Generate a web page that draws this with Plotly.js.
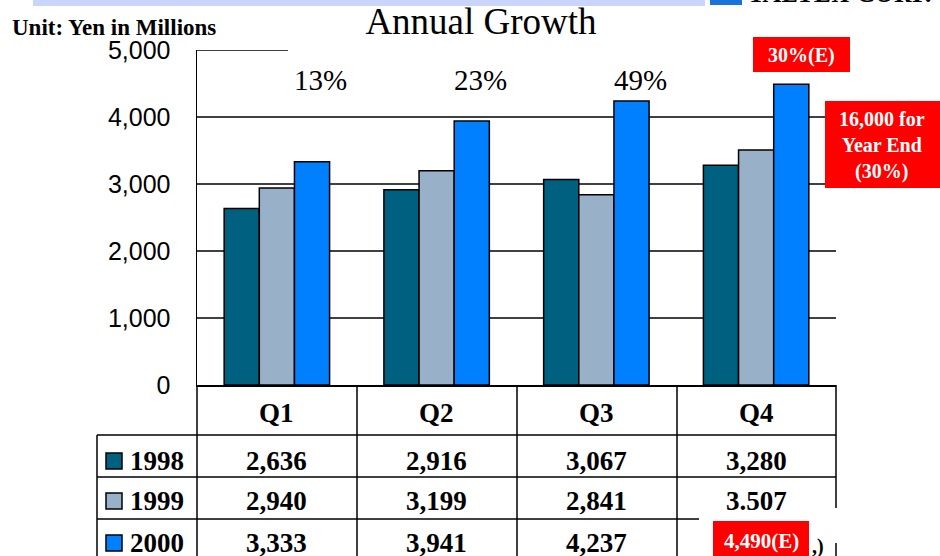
<!DOCTYPE html>
<html><head><meta charset="utf-8">
<script src="https://cdn.plot.ly/plotly-3.0.1.min.js"></script>
<style>html,body{margin:0;padding:0;background:#fff}#chart{width:940px;height:556px}</style>
</head><body><div id="chart"></div>
<script>
// ---- data ----
const quarters = ["Q1", "Q2", "Q3", "Q4"];
const seriesNames = ["1998", "1999", "2000"];
const values1998 = [2636, 2916, 3067, 3280];
const values1999 = [2940, 3199, 2841, 3507];
const values2000 = [3333, 3941, 4237, 4490];
const yTickVals = [0, 1000, 2000, 3000, 4000, 5000];
const gridVals = [1000, 2000, 3000, 4000];
const growthLabels = ["13%", "23%", "49%"];
const table1998 = ["2,636", "2,916", "3,067", "3,280"];
const table1999 = ["2,940", "3,199", "2,841", "3.507"];
const table2000 = ["3,333", "3,941", "4,237", "4,490(E)"];
const seriesColors = ["#006080", "#98B0C8", "#0080FF"];

// ---- geometry helpers (pixel -> paper) ----
const L = 197, R = 836, T = 50, B = 385;
const px = v => (v - L) / (R - L);
const py = v => (B - v) / (B - T);

const seriesValues = [values1998, values1999, values2000];
const tableRows = [table1998, table1999, table2000];

const traces = seriesNames.map((name, i) => ({
  type: "bar",
  name: name,
  x: quarters,
  y: seriesValues[i],
  marker: { color: seriesColors[i], line: { color: "#000", width: 1.5 } },
  hoverinfo: "none",
  showlegend: false
}));

const serif = "Liberation Serif, Times New Roman, serif";
const shapes = [];
const annotations = [];

// grid lines
gridVals.forEach(v => shapes.push({ type: "line", xref: "paper", yref: "y", x0: 0, x1: 1, y0: v, y1: v, layer: "below", line: { color: "#000", width: 1.5 } }));
shapes.push({ type: "line", xref: "paper", yref: "y", x0: 0, x1: px(288), y0: 5000, y1: 5000, layer: "below", line: { color: "#000", width: 1.5 } });

// table lines
const vline = (x, y0, y1) => shapes.push({ type: "line", xref: "paper", yref: "paper", x0: px(x), x1: px(x), y0: py(y0), y1: py(y1), line: { color: "#000", width: 1.5 } });
const hline = (y, x0, x1) => shapes.push({ type: "line", xref: "paper", yref: "paper", x0: px(x0), x1: px(x1), y0: py(y), y1: py(y), line: { color: "#000", width: 1.5 } });
vline(197, 385, 560);
vline(357, 385, 560);
vline(517, 385, 560);
vline(677, 385, 560);
vline(836, 385, 508);
vline(836, 543, 560);
vline(97, 435, 560);
hline(435, 97, 836);
hline(477, 97, 836);
hline(519, 97, 699);

// top decoration band + logo
const rect = (x0, y0, x1, y1, fill, lw, lc) => shapes.push({ type: "rect", xref: "paper", yref: "paper", x0: px(x0), x1: px(x1), y0: py(y0), y1: py(y1), fillcolor: fill, line: { width: lw || 0, color: lc || fill }, layer: "above" });
rect(33, -10, 705, 6, "#C9D5FB");
rect(710, -10, 742, 5, "#1A73D9");

// red boxes
rect(753, 37, 850, 72, "#FF0000");
rect(825, 101, 940, 188, "#FF0000");
rect(713, 521, 809, 560, "#FF0000");

// legend squares
const rowCenters = [461, 501, 543];
rowCenters.forEach((c, i) => rect(106, c - 8, 122, c + 8, seriesColors[i], 1.5, "#000"));

const ann = (text, x, y, size, opts) => annotations.push(Object.assign({
  text: text, xref: "paper", yref: "paper", x: px(x), y: py(y), showarrow: false,
  xanchor: "center", yanchor: "middle", font: { family: serif, size: size, color: "#000" }
}, opts || {}));

// table header
quarters.forEach((q, i) => annotations.push({ text: "<b>" + q + "</b>", xref: "x", yref: "paper", x: q, y: py(413), showarrow: false, xanchor: "center", yanchor: "middle", font: { family: serif, size: 27, color: "#000" } }));
// rows
tableRows.forEach((row, r) => {
  ann("<b>" + seriesNames[r] + "</b>", 128, rowCenters[r], 27, { xanchor: "left" });
  row.forEach((t, i) => {
    if (r === 2 && i === 3) return;
    annotations.push({ text: "<b>" + t + "</b>", xref: "x", yref: "paper", x: quarters[i], y: py(rowCenters[r]), showarrow: false, xanchor: "center", yanchor: "middle", font: { family: serif, size: 27, color: "#000" } });
  });
});
ann("<b>" + table2000[3] + "</b>", 761, 541, 21, { font: { family: serif, size: 21, color: "#fff" } });
ann("<b>,)</b>", 818, 546, 20);

// growth labels
growthLabels.forEach((g, i) => annotations.push({ text: g, xref: "x", yref: "paper", x: quarters[i], xshift: 44, y: py(80), showarrow: false, xanchor: "center", yanchor: "middle", font: { family: serif, size: 29, color: "#000" } }));

// red box texts
ann("<b>30%(E)</b>", 801, 55, 20, { font: { family: serif, size: 20, color: "#fff" } });
ann("<b>16,000 for<br>Year End<br>(30%)</b>", 882, 145, 20, { font: { family: serif, size: 20, color: "#fff" } });

// unit
ann("<b>Unit: Yen in Millions</b>", 10, 28, 23, { xanchor: "left" });
// logo text
ann("<b><i>TALTEX CORP.</i></b>", 747, -9, 27, { xanchor: "left", yanchor: "top", y: py(-24) });

const layout = {
  width: 940, height: 556, autosize: false,
  margin: { l: L, r: 940 - R, t: T, b: 556 - B, pad: 0 },
  paper_bgcolor: "#fff", plot_bgcolor: "rgba(0,0,0,0)",
  title: { text: "Annual Growth", x: 481 / 940, xanchor: "center", y: 1 - 21 / 556, yanchor: "middle", font: { family: serif, size: 37, color: "#000" } },
  barmode: "group", bargap: 0.34, bargroupgap: 0,
  xaxis: { type: "category", showticklabels: false, showline: true, linecolor: "#000", linewidth: 1.5, ticks: "", showgrid: false, zeroline: false, fixedrange: true },
  yaxis: { range: [0, 5000], tickvals: yTickVals, tickformat: ",", showgrid: false, zeroline: false, showline: true, linecolor: "#000", linewidth: 1.5, ticks: "", ticklabelstandoff: 20, tickfont: { family: "Liberation Sans, Arial, sans-serif", size: 25, color: "#000" }, fixedrange: true },
  shapes: shapes,
  annotations: annotations,
  showlegend: false
};

Plotly.newPlot("chart", traces, layout, { displayModeBar: false, staticPlot: true });
</script>
</body></html>
